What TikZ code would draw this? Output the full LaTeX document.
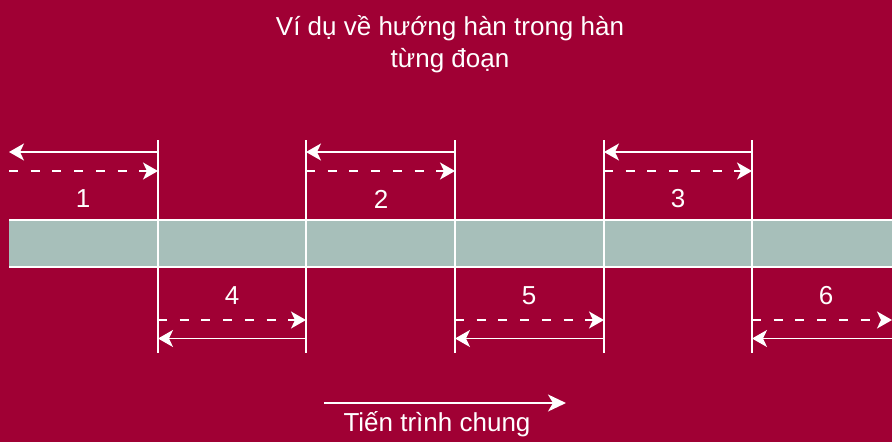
\documentclass[tikz,border=0pt]{standalone}
\usepackage{fontspec}
\setmainfont{Liberation Sans}
\usetikzlibrary{arrows.meta}
\definecolor{bg}{HTML}{A00034}
\definecolor{barc}{HTML}{A7BFBA}
\begin{document}
\begin{tikzpicture}[x=1pt,y=-1pt,
  tip/.style={-{Stealth[length=15pt,width=17pt,inset=4pt]}},
  bigtip/.style={-{Stealth[length=18pt,width=17pt,inset=5pt]}},
  ln/.style={white,line width=1.5pt},
  fwd/.style={white,line width=1.5pt,dash pattern=on 9pt off 12.7pt,tip},
  bwd/.style={white,line width=1.5pt,tip},
  lbl/.style={text=white,font=\fontsize{26}{30}\selectfont,inner sep=0pt}]
\fill[bg] (0,0) rectangle (892,442);
\useasboundingbox (0,0) rectangle (892,442);
% bar
\fill[barc] (9,220) rectangle (892,267);
\coordinate (bl1) at (9,220); \coordinate (br1) at (892,220);
\coordinate (bl2) at (9,267); \coordinate (br2) at (892,267);
\draw[ln] (bl1) -- (br1);
\draw[ln] (bl2) -- (br2);
% verticals
\foreach \i/\x in {1/158,2/306,3/455,4/604,5/752}{
  \coordinate (t\i) at (\x,140);
  \coordinate (b\i) at (\x,353);
  \coordinate (ua\i) at (\x,152);
  \coordinate (ud\i) at (\x,171);
  \coordinate (ld\i) at (\x,320);
  \coordinate (la\i) at (\x,338.5);
  \draw[ln] (t\i) -- (b\i);
}
\coordinate (ua0) at (9,152); \coordinate (ud0) at (9,171);
\coordinate (ld6) at (892,320); \coordinate (la6) at (892,338.5);
% top arrows
\draw[bwd] (ua1) -- (ua0);
\draw[fwd] (ud0) -- (ud1);
\draw[bwd] (ua3) -- (ua2);
\draw[fwd] (ud2) -- (ud3);
\draw[bwd] (ua5) -- (ua4);
\draw[fwd] (ud4) -- (ud5);
% bottom arrows
\draw[fwd] (ld1) -- (ld2);
\draw[bwd] (la2) -- (la1);
\draw[fwd] (ld3) -- (ld4);
\draw[bwd] (la4) -- (la3);
\draw[fwd] (ld5) -- (ld6);
\draw[bwd] (la6) -- (la5);
% labels
\node[lbl] (n1) at (83,199) {1};
\node[lbl] (n2) at (381,199) {2};
\node[lbl] (n3) at (678,199) {3};
\node[lbl] (n4) at (232,296) {4};
\node[lbl] (n5) at (529,296) {5};
\node[lbl] (n6) at (826,296) {6};
% title
\node[lbl,align=center,font=\fontsize{26}{32}\selectfont] (title) at (450,44) {Ví dụ về hướng hàn trong hàn\\từng đoạn};
% overall progress
\coordinate (p0) at (324,403); \coordinate (p1) at (566,403);
\draw[white,line width=1.5pt,bigtip] (p0) -- (p1);
\node[lbl] (prog) at (437,424) {Tiến trình chung};
\end{tikzpicture}
\end{document}
